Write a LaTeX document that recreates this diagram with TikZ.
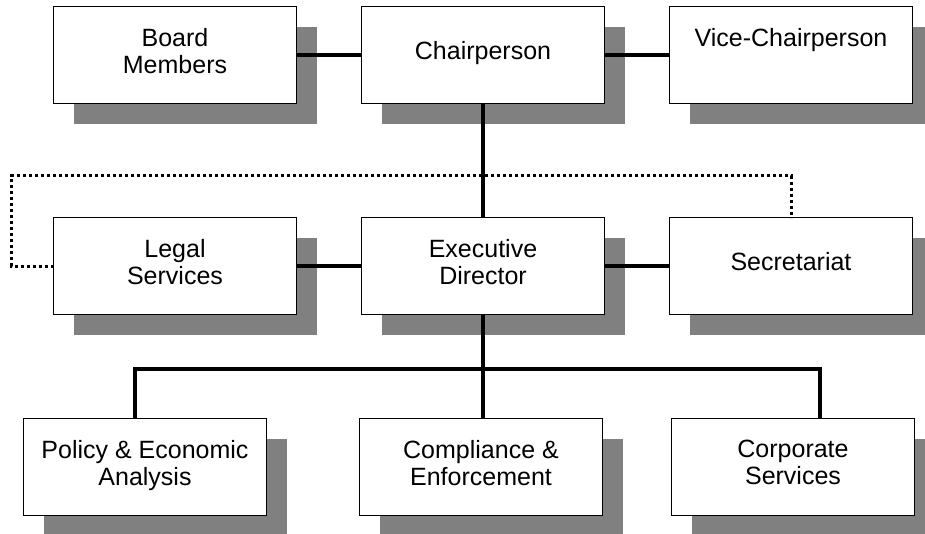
\documentclass[tikz,border=0pt]{standalone}
\usepackage{fontspec}
\setmainfont{Liberation Sans}
\usetikzlibrary{positioning,shadows}

\tikzset{
  unit/.style    = {draw, rectangle, line width=1.5pt, fill=white,
                    minimum width=243pt, minimum height=97pt,
                    inner sep=0pt, outer sep=0pt, align=center,
                    font=\fontsize{25}{27}\selectfont,
                    execute at end node={\rule[-9pt]{0pt}{9pt}},
                    drop shadow={shadow xshift=20pt, shadow yshift=-20pt,
                                 fill=black!50, opacity=1}},
  link/.style    = {line width=3.5pt},
  dotlink/.style = {line width=3pt, dash pattern=on 3pt off 3pt}
}

\begin{document}
\begin{tikzpicture}[x=1pt, y=1pt, node distance=65pt]
\useasboundingbox (0,0) rectangle (925,-533);

% top row, board level
\node[unit] (chair) at (483,-55) {Chairperson};
\node[unit, left=of chair] (board) {Board\\Members};
\node[unit, right=of chair] (vice) {Vice-Chairperson\\~};

% middle row, relatively positioned
\node[unit, below=114pt of chair] (exec) {Executive\\Director};
\node[unit, left=of exec] (legal) {Legal\\Services};
\node[unit, right=of exec] (secr) {Secretariat};

% bottom row, the divisions
\node[unit, below=104pt of exec, xshift=-2pt] (comp) {Compliance \&\\Enforcement};
\node[unit, left=93pt of comp] (policy) {Policy \& Economic\\Analysis};
\node[unit, right=69pt of comp] (corp) {Corporate\\Services};

\coordinate (bus) at (483,-369);

\draw[link] (board) -- (chair);
\draw[link] (chair) -- (vice);
\draw[link] (chair) -- (exec);
\draw[link] (legal) -- (exec);
\draw[link] (exec) -- (secr);
\draw[link] (exec.south) -- (exec.south |- comp.north);
\draw[link] ([xshift=-10pt]policy.north) |- (bus) -| ([xshift=27pt]corp.north);

\draw[dotlink] (legal.west) -- ++(-42,0) |- ([yshift=42pt]secr.north) -- (secr.north);
\end{tikzpicture}
\end{document}
